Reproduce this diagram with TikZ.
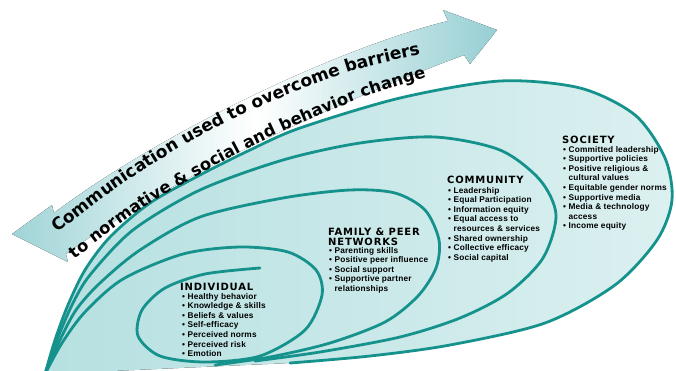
\documentclass[tikz,border=0pt]{standalone}
\usepackage{fontspec}
\setmainfont{Liberation Sans}
\newfontfamily\hdrfont[LetterSpace=8]{DejaVu Sans}
\newfontfamily\itmfont[LetterSpace=2]{Liberation Sans}
\newfontfamily\arrfont{DejaVu Sans}
\usetikzlibrary{decorations.text}
\definecolor{lineC}{RGB}{22,146,141}
\definecolor{fillL}{RGB}{182,224,225}
\definecolor{fillR}{RGB}{220,240,240}
\definecolor{bandL}{RGB}{160,212,215}
\definecolor{bandR}{RGB}{150,207,211}
\begin{document}
\begin{tikzpicture}[x=1pt,y=-1pt,
  curve/.style={draw=lineC, line width=2.8pt, line cap=round, line join=round},
  hdr/.style={anchor=base west, inner sep=0pt, font=\hdrfont\bfseries\fontsize{10}{10}\selectfont},
  lst/.style={anchor=base west, inner sep=0pt, font=\itmfont\bfseries\fontsize{8.3}{9.6}\selectfont},
  arrtext/.style={decorate, decoration={text along path, text align={left indent=0pt}, text={#1}}}]
\useasboundingbox (0,0) rectangle (676,370);

% double-headed curved band
\fill[left color=bandL, right color=bandR, middle color=white]
  (54,213) .. controls (150,140) and (330,50) .. (448,21) -- (443,10) -- (497,30) -- (470,64) -- (464,55)
  .. controls (330,105) and (170,178) .. (66,254) -- (68,262) -- (12,234) -- (52,205) -- cycle;

% light fill of the spiral
\fill[left color=fillL, right color=fillR]
  plot[smooth] coordinates {(45,374) (55,340) (68,305) (85,270) (110,237) (150,203) (200,175) (250,150) (300,128) (400,98) (500,81) (580,88) (635,115) (665,158) (672,200) (657,240) (615,285) (545,323) (450,345) (370,356) (290,363)} -- cycle;

% SOCIETY loop
\draw[curve] plot[smooth] coordinates {(45,374) (55,340) (68,305) (85,270) (110,237) (150,203) (200,175) (250,150) (300,128) (400,98) (500,81) (580,88) (635,115) (665,158) (672,200) (657,240) (615,285) (545,323) (450,345) (370,356) (290,363)};
% COMMUNITY loop
\draw[curve] plot[smooth] coordinates {(45,374) (57,340) (72,305) (90,275) (133,230) (200,190) (283,160) (360,143) (435,137) (500,150) (540,180) (556,215) (543,258) (508,293) (460,318) (400,337) (320,352) (255,361)};
% FAMILY loop
\draw[curve] plot[smooth] coordinates {(45,374) (59,342) (76,310) (100,283) (140,250) (200,217) (283,198) (350,190) (395,193) (425,210) (439,240) (436,268) (418,296) (385,322) (330,343) (270,357) (215,365)};
% INDIVIDUAL spiral
\draw[curve] plot[smooth] coordinates {(45,374) (62,343) (85,312) (123,279) (183,254) (240,247) (288,252) (316,270) (322,295) (305,330) (260,356) (205,362) (160,356) (138,336) (142,310) (165,288) (205,274) (260,268)};

% band text
\path[arrtext={|\arrfont\bfseries\fontsize{17}{17}\selectfont|Communication used to overcome barriers}]
  plot[smooth] coordinates {(58,233) (118,187) (183,146) (254,109) (352,71) (440,50) (480,42)};
\path[arrtext={|\arrfont\bfseries\fontsize{16.4}{17}\selectfont|to normative {\&} social and behavior change}]
  plot[smooth] coordinates {(75,259) (133,215) (193,178) (252,146) (302,123) (372,94) (447,72) (487,64)};

% INDIVIDUAL
\node[hdr] (indh) at (180,290) {INDIVIDUAL};
\node[lst] (indl) at (182,299) {\begin{tabular}[t]{@{}l@{\hspace{2.5pt}}l@{}}
• & Healthy behavior\\ • & Knowledge \& skills\\ • & Beliefs \& values\\ • & Self-efficacy\\
• & Perceived norms\\ • & Perceived risk\\ • & Emotion\end{tabular}};

% FAMILY & PEER NETWORKS
\node[hdr] (famh) at (328,235) {\begin{tabular}[t]{@{}l@{}}FAMILY \& PEER\\ NETWORKS\end{tabular}};
\node[lst] (faml) at (329,253) {\begin{tabular}[t]{@{}l@{\hspace{2.5pt}}l@{}}
• & Parenting skills\\ • & Positive peer influence\\ • & Social support\\
• & Supportive partner\\ & relationships\end{tabular}};

% COMMUNITY
\node[hdr] (comh) at (447,183) {COMMUNITY};
\node[lst] (coml) at (448,193) {\begin{tabular}[t]{@{}l@{\hspace{2.5pt}}l@{}}
• & Leadership\\ • & Equal Participation\\ • & Information equity\\ • & Equal access to\\
 & resources \& services\\ • & Shared ownership\\ • & Collective efficacy\\ • & Social capital\end{tabular}};

% SOCIETY
\node[hdr] (soch) at (562,143) {SOCIETY};
\node[lst] (socl) at (563,152) {\begin{tabular}[t]{@{}l@{\hspace{2.5pt}}l@{}}
• & Committed leadership\\ • & Supportive policies\\ • & Positive religious \&\\ & cultural values\\
• & Equitable gender norms\\ • & Supportive media\\ • & Media \& technology\\ & access\\ • & Income equity\end{tabular}};
\end{tikzpicture}
\end{document}
